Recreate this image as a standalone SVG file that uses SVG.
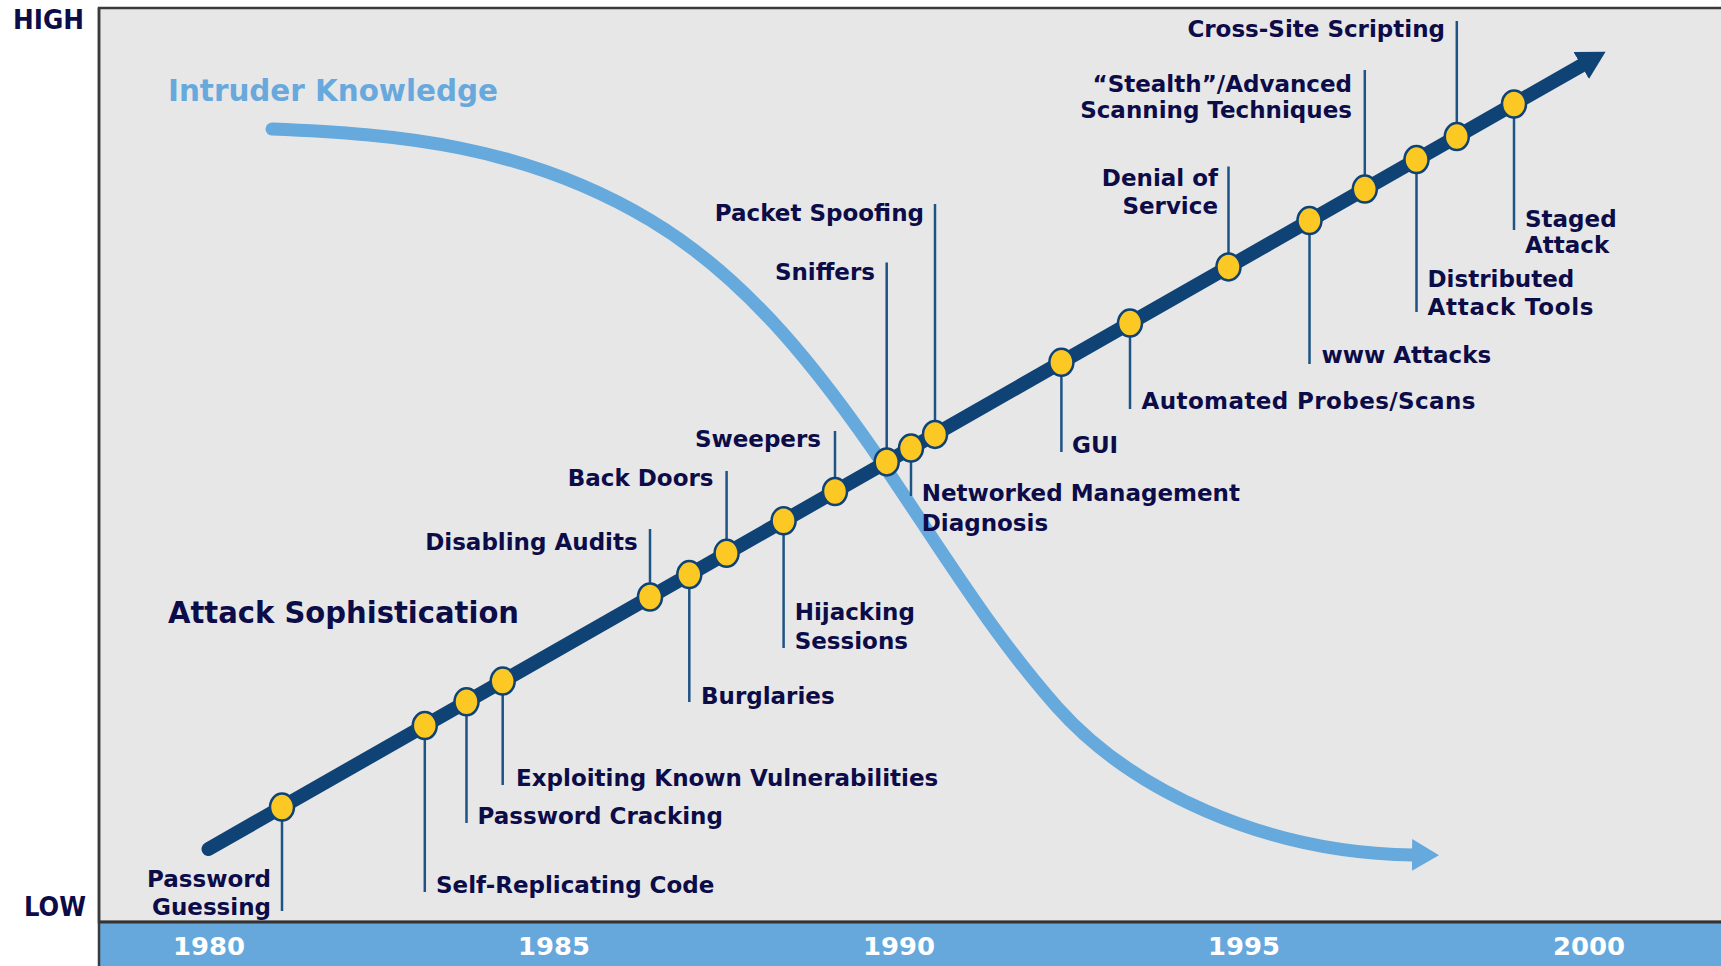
<svg xmlns="http://www.w3.org/2000/svg" width="1721" height="966" viewBox="0 0 1721 966">
<defs>
<style>
.lbl{font-family:"DejaVu Sans",Verdana,sans-serif;font-weight:bold;font-size:23px;fill:#0c0c48}
.end{text-anchor:end}
.dot{fill:#fcc823;stroke:#0f4275;stroke-width:2.5}
.lead{stroke:#1d5385;stroke-width:2.5;fill:none}
.yr{font-family:"DejaVu Sans",Verdana,sans-serif;font-weight:bold;font-size:25px;fill:#ffffff;text-anchor:middle}
.axis{font-family:"DejaVu Sans",Verdana,sans-serif;font-weight:bold;font-size:27px;fill:#0c0c48}
.title{font-family:"DejaVu Sans",Verdana,sans-serif;font-weight:bold;font-size:31px}
</style>
<marker id="headDark" markerUnits="userSpaceOnUse" markerWidth="30" markerHeight="32" refX="2" refY="15.5" orient="auto">
<path d="M0,0 L28,15.5 L0,31 Z" fill="#0f4275"/>
</marker>
<marker id="headLight" markerUnits="userSpaceOnUse" markerWidth="30" markerHeight="34" refX="1" refY="16" orient="auto">
<path d="M0,0 L27,16 L0,32 Z" fill="#65a9dd"/>
</marker>
</defs>
<rect x="0" y="0" width="1721" height="966" fill="#ffffff"/>
<rect x="99" y="8" width="1640" height="914" fill="#e7e7e7" stroke="#3a3a3a" stroke-width="2.5"/>
<rect x="99" y="922" width="1640" height="50" fill="#66a8dc"/>
<line x1="99" y1="922" x2="1721" y2="922" stroke="#333333" stroke-width="3"/>
<line x1="99" y1="8" x2="99" y2="966" stroke="#3a3a3a" stroke-width="2.5"/>

<g id="axis-labels">
<text class="axis end" x="84" y="29" textLength="71" lengthAdjust="spacingAndGlyphs">HIGH</text>
<text class="axis end" x="86" y="916" textLength="62" lengthAdjust="spacingAndGlyphs">LOW</text>
<text class="yr" x="209" y="955" textLength="72" lengthAdjust="spacingAndGlyphs">1980</text>
<text class="yr" x="554" y="955" textLength="72" lengthAdjust="spacingAndGlyphs">1985</text>
<text class="yr" x="899" y="955" textLength="72" lengthAdjust="spacingAndGlyphs">1990</text>
<text class="yr" x="1244" y="955" textLength="72" lengthAdjust="spacingAndGlyphs">1995</text>
<text class="yr" x="1589" y="955" textLength="72" lengthAdjust="spacingAndGlyphs">2000</text>
</g>

<g id="connectors">
<path id="knowledge-curve" d="M272,129 C398,134 524,145 650,220 C748.8,278.9 822.5,374.9 887,470 C941.4,550.2 992.6,634.5 1057,707 C1130,789 1263,853 1413,855" fill="none" stroke="#65a9dd" stroke-width="13" stroke-linecap="round" marker-end="url(#headLight)"/>
<path id="sophistication-arrow" d="M208.5,849 L1583,64.6" fill="none" stroke="#0f4275" stroke-width="14" stroke-linecap="round" marker-end="url(#headDark)"/>
</g>

<g id="titles">
<text class="title" x="168" y="101" fill="#67a9dd" textLength="330" lengthAdjust="spacingAndGlyphs">Intruder Knowledge</text>
<text class="title" x="168" y="623" fill="#0c0c48" textLength="351" lengthAdjust="spacingAndGlyphs">Attack Sophistication</text>
</g>

<g id="n-password-guessing">
<line class="lead" x1="282" y1="807.1" x2="282" y2="911"/>
<ellipse class="dot" cx="282" cy="807.1" rx="12" ry="13.5"/>
<text class="lbl end"><tspan x="271" y="887">Password</tspan><tspan x="271" y="915">Guessing</tspan></text>
</g>
<g id="n-self-replicating-code">
<line class="lead" x1="424.8" y1="725.6" x2="424.8" y2="892"/>
<ellipse class="dot" cx="424.8" cy="725.6" rx="12" ry="13.5"/>
<text class="lbl" x="436" y="893">Self-Replicating Code</text>
</g>
<g id="n-password-cracking">
<line class="lead" x1="466.5" y1="701.8" x2="466.5" y2="823"/>
<ellipse class="dot" cx="466.5" cy="701.8" rx="12" ry="13.5"/>
<text class="lbl" x="477.5" y="824">Password Cracking</text>
</g>
<g id="n-exploiting">
<line class="lead" x1="502.7" y1="681.1" x2="502.7" y2="785"/>
<ellipse class="dot" cx="502.7" cy="681.1" rx="12" ry="13.5"/>
<text class="lbl" x="516" y="786">Exploiting Known Vulnerabilities</text>
</g>
<g id="n-disabling-audits">
<line class="lead" x1="650" y1="529" x2="650" y2="597"/>
<ellipse class="dot" cx="650" cy="597" rx="12" ry="13.5"/>
<text class="lbl end" x="637.7" y="550">Disabling Audits</text>
</g>
<g id="n-burglaries">
<line class="lead" x1="689.3" y1="574.6" x2="689.3" y2="702"/>
<ellipse class="dot" cx="689.3" cy="574.6" rx="12" ry="13.5"/>
<text class="lbl" x="701" y="703.6">Burglaries</text>
</g>
<g id="n-back-doors">
<line class="lead" x1="726.6" y1="471" x2="726.6" y2="553.3"/>
<ellipse class="dot" cx="726.6" cy="553.3" rx="12" ry="13.5"/>
<text class="lbl end" x="713.5" y="486">Back Doors</text>
</g>
<g id="n-hijacking">
<line class="lead" x1="783.6" y1="520.8" x2="783.6" y2="648"/>
<ellipse class="dot" cx="783.6" cy="520.8" rx="12" ry="13.5"/>
<text class="lbl"><tspan x="794.7" y="620">Hijacking</tspan><tspan x="794.7" y="649">Sessions</tspan></text>
</g>
<g id="n-sweepers">
<line class="lead" x1="835" y1="431" x2="835" y2="491.5"/>
<ellipse class="dot" cx="835" cy="491.5" rx="12" ry="13.5"/>
<text class="lbl end" x="821" y="446.7">Sweepers</text>
</g>
<g id="n-sniffers">
<line class="lead" x1="886.7" y1="262.5" x2="886.7" y2="461.9"/>
<ellipse class="dot" cx="886.7" cy="461.9" rx="12" ry="13.5"/>
<text class="lbl end" x="875" y="280">Sniffers</text>
</g>
<g id="n-networked-management">
<line class="lead" x1="911" y1="448.1" x2="911" y2="496"/>
<ellipse class="dot" cx="911" cy="448.1" rx="12" ry="13.5"/>
<text class="lbl"><tspan x="921.7" y="501">Networked Management</tspan><tspan x="921.7" y="530.5">Diagnosis</tspan></text>
</g>
<g id="n-packet-spoofing">
<line class="lead" x1="935" y1="204" x2="935" y2="434.4"/>
<ellipse class="dot" cx="935" cy="434.4" rx="12" ry="13.5"/>
<text class="lbl end" x="924" y="220.5">Packet Spoofing</text>
</g>
<g id="n-gui">
<line class="lead" x1="1061.4" y1="362.3" x2="1061.4" y2="452"/>
<ellipse class="dot" cx="1061.4" cy="362.3" rx="12" ry="13.5"/>
<text class="lbl" x="1072" y="453">GUI</text>
</g>
<g id="n-automated-probes">
<line class="lead" x1="1130" y1="323.1" x2="1130" y2="409"/>
<ellipse class="dot" cx="1130" cy="323.1" rx="12" ry="13.5"/>
<text class="lbl" x="1141.5" y="409" textLength="334" lengthAdjust="spacing">Automated Probes/Scans</text>
</g>
<g id="n-denial-of-service">
<line class="lead" x1="1228.5" y1="166.5" x2="1228.5" y2="266.9"/>
<ellipse class="dot" cx="1228.5" cy="266.9" rx="12" ry="13.5"/>
<text class="lbl end"><tspan x="1218" y="185.5">Denial of</tspan><tspan x="1218" y="213.5">Service</tspan></text>
</g>
<g id="n-www-attacks">
<line class="lead" x1="1309.5" y1="220.6" x2="1309.5" y2="364"/>
<ellipse class="dot" cx="1309.5" cy="220.6" rx="12" ry="13.5"/>
<text class="lbl" x="1321.5" y="363">www Attacks</text>
</g>
<g id="n-stealth-scanning">
<line class="lead" x1="1364.8" y1="70" x2="1364.8" y2="189.1"/>
<ellipse class="dot" cx="1364.8" cy="189.1" rx="12" ry="13.5"/>
<text class="lbl end"><tspan x="1352" y="92">“Stealth”/Advanced</tspan><tspan x="1352" y="118">Scanning Techniques</tspan></text>
</g>
<g id="n-distributed-attack-tools">
<line class="lead" x1="1416.5" y1="159.6" x2="1416.5" y2="312"/>
<ellipse class="dot" cx="1416.5" cy="159.6" rx="12" ry="13.5"/>
<text class="lbl"><tspan x="1427.5" y="286.5">Distributed</tspan><tspan x="1427.5" y="315" textLength="166" lengthAdjust="spacing">Attack Tools</tspan></text>
</g>
<g id="n-cross-site-scripting">
<line class="lead" x1="1456.8" y1="21" x2="1456.8" y2="136.6"/>
<ellipse class="dot" cx="1456.8" cy="136.6" rx="12" ry="13.5"/>
<text class="lbl end" x="1445" y="37">Cross-Site Scripting</text>
</g>
<g id="n-staged-attack">
<line class="lead" x1="1514" y1="104" x2="1514" y2="230"/>
<ellipse class="dot" cx="1514" cy="104" rx="12" ry="13.5"/>
<text class="lbl"><tspan x="1525" y="227">Staged</tspan><tspan x="1525" y="253">Attack</tspan></text>
</g>
</svg>
